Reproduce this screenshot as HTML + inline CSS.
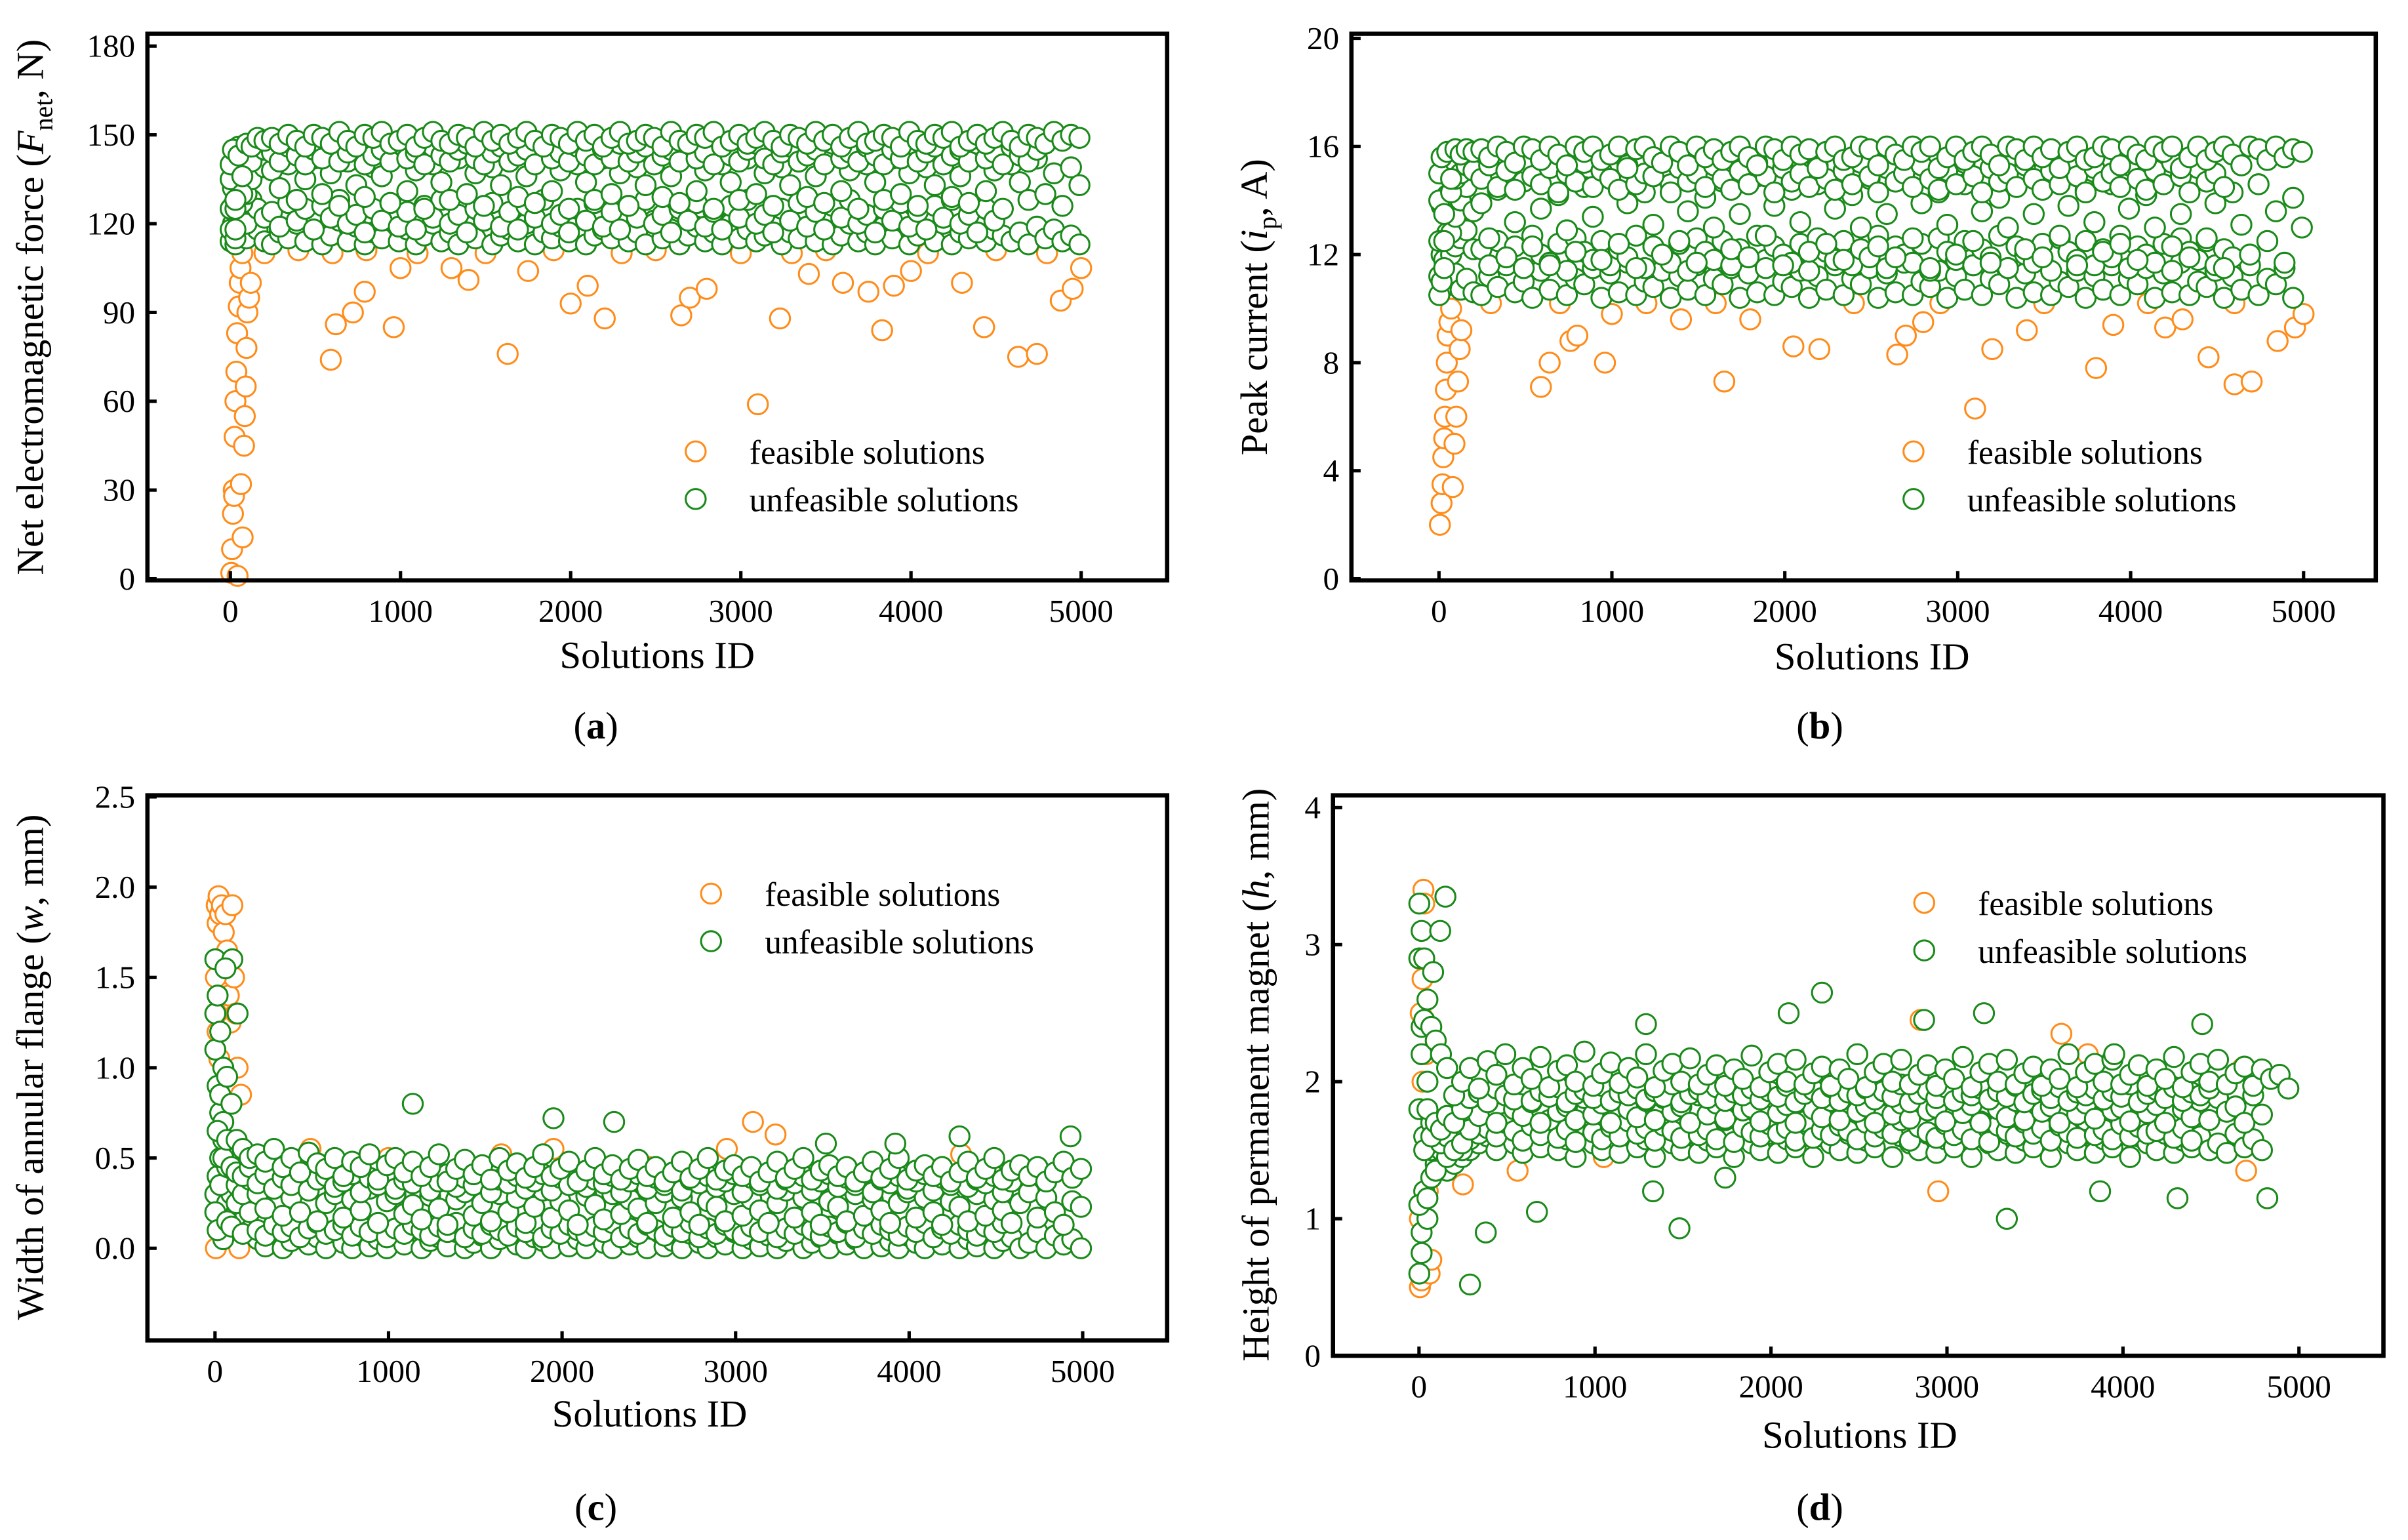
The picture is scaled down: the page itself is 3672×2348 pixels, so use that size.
<!DOCTYPE html>
<html><head><meta charset="utf-8"><style>
html,body{margin:0;padding:0;background:#fff}
svg{display:block}
svg text{font-family:"Liberation Serif","Times New Roman",serif;fill:#000}
</style></head><body>
<svg id="fig" xmlns="http://www.w3.org/2000/svg" width="3672" height="2348" viewBox="0 0 1568 1003" preserveAspectRatio="none" font-family="Liberation Serif, serif">
<rect width="1568" height="1003" fill="#fff"/>
<g id="layer"></g>
<text x="28" y="200" font-size="25" text-anchor="middle" transform="rotate(-90 28 200)">Net electromagnetic force (<tspan font-style="italic">F</tspan><tspan font-size="17" dy="6">net</tspan><tspan dy="-6">, N)</tspan></text>
<text x="825" y="200" font-size="25" text-anchor="middle" transform="rotate(-90 825 200)">Peak current (<tspan font-style="italic">i</tspan><tspan font-size="17" dy="6">p</tspan><tspan dy="-6">, A)</tspan></text>
<text x="28" y="695" font-size="25" text-anchor="middle" transform="rotate(-90 28 695)">Width of annular flange (<tspan font-style="italic">w</tspan>, mm)</text>
<text x="826" y="700" font-size="25" text-anchor="middle" transform="rotate(-90 826 700)">Height of permanent magnet (<tspan font-style="italic">h</tspan>, mm)</text>
<text x="428" y="435" font-size="25" text-anchor="middle">Solutions ID</text>
<text x="1219" y="436" font-size="25" text-anchor="middle">Solutions ID</text>
<text x="423" y="929" font-size="25" text-anchor="middle">Solutions ID</text>
<text x="1211" y="943" font-size="25" text-anchor="middle">Solutions ID</text>
<text x="388" y="481" font-size="25" text-anchor="middle">(<tspan font-weight="bold">a</tspan>)</text>
<text x="1185" y="481" font-size="25" text-anchor="middle">(<tspan font-weight="bold">b</tspan>)</text>
<text x="388" y="990" font-size="25" text-anchor="middle">(<tspan font-weight="bold">c</tspan>)</text>
<text x="1185" y="990" font-size="25" text-anchor="middle">(<tspan font-weight="bold">d</tspan>)</text>
</svg>
<script>
const ids=[2,15,30,48,70,95,125,160,200,245,290,340,390,440,490,540,590,640,690,740,790,840,890,940,990,1040,1090,1140,1190,1240,1290,1340,1390,1440,1490,1540,1590,1640,1690,1740,1790,1840,1890,1940,1990,2040,2090,2140,2190,2240,2290,2340,2390,2440,2490,2540,2590,2640,2690,2740,2790,2840,2890,2940,2990,3040,3090,3140,3190,3240,3290,3340,3390,3440,3490,3540,3590,3640,3690,3740,3790,3840,3890,3940,3990,4040,4090,4140,4190,4240,4290,4340,4390,4440,4490,4540,4590,4640,4690,4740,4790,4840,4890,4940,4990];
const aHi=[140,145,128,143,136,147,146,149,148,149,147,150,148,146,150,149,147,151,148,146,150,149,151,147,148,150,146,149,151,148,147,150,149,146,151,148,150,147,149,151,148,146,150,149,147,151,148,150,146,149,151,147,148,150,149,146,151,148,147,150,149,151,146,148,150,147,149,151,148,146,150,149,147,151,148,150,146,149,151,147,148,150,149,146,151,148,147,150,149,151,146,148,150,147,149,151,148,146,150,149,147,151,148,150,149];
const aUp=[135,140,125,146,130,142,141,147,145,144,141,146,143,140,145,142,147,141,144,146,140,143,145,141,147,142,144,140,146,143,141,145,147,142,140,144,146,141,143,145,140,147,142,144,141,146,143,140,145,142,147,141,144,146,140,143,145,141,147,142,144,140,146,143,141,145,147,142,140,144,146,141,143,145,140,147,142,144,141,146,143,140,145,142,147,141,144,146,140,143,145,141,147,142,144,140,146,143,141,145];
const aMid=[125,132,118,138,127,130,135,141,139,138,132,140,128,135,142,130,137,126,141,133,129,139,136,127,143,131,138,125,140,134,128,142,130,137,126,139,133,141,129,136,127,143,131,138,125,140,134,128,142,130,137,126,139,133,141,129,136,127,143,131,138,125,140,134,128,142,130,137,126,139,133,141,129,136,127,143,131,138,125,140,134,128,142,130,137,126,139,133,141,129,136,127,143,131,138,125,140,134,128,142,130,137,126,139,133];
const aDn=[118,126,115,122,124,120,128,125,122,124,119,127,121,125,118,126,122,128,120,123,117,125,121,127,119,124,118,126,122,128,120,123,117,125,121,127,119,124,118,126,122,128,120,123,117,125,121,127,119,124,118,126,122,128,120,123,117,125,121,127,119,124,118,126,122,128,120,123,117,125,121,127,119,124,118,126,122,128,120,123,117,125,121,127,119,124,118,126,122,128,120,123,117,125,121];
const aLo=[114,120,113,116,119,115,121,118,114,113,117,115,120,114,118,113,116,121,114,119,113,117,115,122,114,118,113,116,120,114,117,113,119,115,121,113,116,118,114,120,113,117,115,119,114,122,113,116,118,115,120,114,117,113,121,115,118,113,116,119,114,117,113,120,115,118,114,116,121,113,117,115,119,114,118,113,116,120,114,117,113,119,115,121,113,116,118,114,120,113,117,115,119,114,118,116,114,117,113,119,115,118,114,116,113];
const bHi=[15,15.6,13.5,15.8,14.8,15.9,15.7,15.9,15.8,15.9,15.6,16,15.8,15.4,16,15.9,15.5,16,15.7,15.3,16,15.8,16,15.5,15.7,16,15.2,15.9,16,15.6,15.4,16,15.8,15.3,16,15.6,15.9,15.5,15.8,16,15.6,15.3,16,15.9,15.5,16,15.7,15.9,15.2,15.8,16,15.5,15.6,16,15.9,15.3,16,15.7,15.5,16,15.8,16,15.2,15.6,16,15.5,15.8,16,15.7,15.3,16,15.9,15.5,16,15.6,15.9,15.2,15.8,16,15.5,15.6,16,15.9,15.3,16,15.7,15.5,16,15.8,16,15.2,15.6,16,15.5,15.8,16,15.7,15.3,16,15.9,15.5,16,15.6,15.9,15.8];
const bUp=[14,15,12.5,15.2,14.3,14.8,15,15.3,15.1,14.8,15.3,14.5,15.1,14.4,15.4,14.9,14.6,15.2,14.3,15.0,14.7,15.4,14.5,15.1,14.8,14.4,15.3,14.6,15.0,14.9,15.4,14.3,15.2,14.7,15.0,14.5,15.3,14.8,14.4,15.1,14.6,15.4,14.9,14.3,15.2,14.7,15.0,14.5,15.3,14.8,14.4,15.1,14.6,15.4,14.9,14.3,15.2,14.7,15.0,14.5,15.3,14.8,14.4,15.1,14.6,15.4,14.9,14.3,15.2,14.7,15.0,14.5,15.3,14.8,14.4,15.1,14.6,15.4,14.9,14.3,15.2,14.7,15.0,14.5,15.3,14.8,14.4,15.1,14.6,15.4,14.9,14.3,15.2,14.7,15.0,14.5];
const bMid=[12.5,13.8,11.5,14.2,12.8,13.4,14,14.5,13.6,13.9,12.6,14.4,11.9,13.2,14.7,12.3,13.7,11.6,14.2,12.9,12.1,14.5,13.4,11.8,14.8,12.4,13.9,11.5,14.3,13.1,12,14.6,12.5,13.6,11.7,14.1,13,14.7,12.2,13.5,11.9,14.9,12.7,13.8,11.6,14.4,13.2,12.1,14.6,12.4,13.7,11.8,14.2,13,14.8,12.3,13.5,11.9,14.9,12.6,13.9,11.5,14.3,13.1,12,14.6,12.5,13.6,11.7,14.1,13,14.7,12.2,13.5,11.9,14.9,12.7,13.8,11.6,14.4,13.2,12.1,14.6,12.4,13.7,11.8,14.2,13,14.8,12.3,13.5,11.9,14.9,12.6,13.9,11.5,14.3,13.1,12,14.6,12.5,13.6,11.7,14.1,13];
const bDn=[10.5,11,11.8,12.8,12,12.3,12.6,12.9,12.2,12.2,11.6,12.5,11.9,12.3,11.5,12.7,12.0,11.7,12.4,11.4,12.6,12.1,11.8,12.5,11.6,12.2,11.9,12.7,11.5,12.3,12.0,11.7,12.4,11.4,12.6,12.1,11.8,12.5,11.6,12.2,11.9,12.7,11.5,12.3,12.0,11.7,12.4,11.4,12.6,12.1,11.8,12.5,11.6,12.2,11.9,12.7,11.5,12.3,12.0,11.7,12.4,11.4,12.6,12.1,11.8,12.5,11.6,12.2,11.9,12.7,11.5,12.3,12.0,11.7,12.4,11.4,12.6,12.1,11.8,12.5,11.6,12.2,11.9,12.7,11.5,12.3,12.0,11.7,12.4,11.4,12.6,12.1,11.8,12.5,11.6,12.2,11.9];
const bLo=[11.2,12,10.8,11.5,10.9,11.3,10.7,11.1,10.6,10.5,11.2,10.8,11.6,10.6,11.0,10.4,11.4,10.7,11.8,10.5,11.1,10.9,11.5,10.4,11.3,10.6,11.7,10.5,11.0,10.8,11.4,10.4,11.2,10.7,11.6,10.5,11.1,10.9,11.5,10.4,11.3,10.6,11.8,10.5,11.0,10.8,11.4,10.4,11.2,10.7,11.6,10.5,11.1,10.9,11.5,10.4,11.3,10.6,11.7,10.5,11.0,10.8,11.4,10.4,11.2,10.7,11.6,10.5,11.1,10.9,11.5,10.4,11.3,10.6,11.8,10.5,11.0,10.8,11.4,10.4,11.2,10.7,11.6,10.5,11.1,10.9,11.5,10.4,11.3,10.6,11.7,10.5,11.0,10.8,11.4,10.4,11.2,10.7,11.6,10.5,11.1,10.9,11.5,10.4];
const cHi=[1.6,1.4,1.2,1.0,0.95,0.8,0.6,0.55,0.5,0.52,0.48,0.55,0.45,0.5,0.42,0.53,0.47,0.44,0.5,0.4,0.48,0.45,0.52,0.38,0.46,0.5,0.42,0.48,0.4,0.45,0.52,0.37,0.44,0.49,0.41,0.46,0.38,0.5,0.43,0.47,0.39,0.45,0.52,0.4,0.44,0.48,0.37,0.43,0.5,0.41,0.46,0.38,0.44,0.49,0.4,0.45,0.37,0.42,0.48,0.39,0.44,0.5,0.38,0.43,0.46,0.4,0.45,0.37,0.42,0.48,0.39,0.44,0.5,0.38,0.43,0.46,0.4,0.45,0.37,0.42,0.48,0.39,0.44,0.5,0.38,0.43,0.46,0.4,0.45,0.37,0.42,0.48,0.39,0.44,0.5,0.38,0.43,0.46,0.4,0.45,0.37,0.42,0.48,0.39,0.44];
const cUp=[1.1,0.65,0.85,0.5,0.6,0.45,0.42,0.4,0.45,0.36,0.41,0.33,0.39,0.35,0.42,0.32,0.38,0.4,0.34,0.37,0.41,0.31,0.39,0.35,0.42,0.33,0.38,0.36,0.4,0.32,0.37,0.41,0.34,0.39,0.35,0.42,0.31,0.38,0.36,0.4,0.33,0.37,0.41,0.32,0.39,0.35,0.42,0.34,0.38,0.36,0.4,0.31,0.37,0.41,0.33,0.39,0.35,0.42,0.32,0.38,0.36,0.4,0.34,0.37,0.41,0.31,0.39,0.35,0.42,0.33,0.38,0.36,0.4,0.32,0.37,0.41,0.34,0.39,0.35,0.42,0.31,0.38,0.36,0.4,0.33,0.37,0.41,0.32,0.39,0.35,0.42,0.34,0.38,0.36,0.4,0.31,0.37];
const cMid=[1.3,0.9,0.75,0.7,0.45,0.55,0.35,0.3,0.38,0.3,0.22,0.35,0.18,0.28,0.2,0.32,0.15,0.25,0.3,0.17,0.27,0.21,0.33,0.14,0.26,0.3,0.19,0.24,0.16,0.29,0.22,0.13,0.27,0.31,0.18,0.25,0.15,0.3,0.2,0.28,0.14,0.23,0.32,0.17,0.26,0.21,0.13,0.29,0.24,0.16,0.3,0.19,0.27,0.22,0.14,0.25,0.31,0.17,0.28,0.2,0.13,0.26,0.23,0.15,0.3,0.18,0.27,0.21,0.14,0.25,0.32,0.17,0.28,0.2,0.13,0.26,0.23,0.15,0.3,0.18,0.27,0.21,0.14,0.25,0.31,0.17,0.28,0.2,0.13,0.26,0.23,0.15,0.3,0.18,0.27,0.21,0.14,0.25,0.31,0.17,0.28,0.2,0.13,0.26,0.23];
const cDn=[0.2,0.1,0.35,0.6,0.15,0.12,0.25,0.08,0.2,0.1,0.07,0.13,0.09,0.12,0.06,0.11,0.14,0.08,0.1,0.13,0.07,0.12,0.09,0.14,0.06,0.11,0.08,0.13,0.1,0.07,0.12,0.09,0.14,0.06,0.11,0.08,0.13,0.1,0.07,0.12,0.09,0.14,0.06,0.11,0.08,0.13,0.1,0.07,0.12,0.09,0.14,0.06,0.11,0.08,0.13,0.1,0.07,0.12,0.09,0.14,0.06,0.11,0.08,0.13,0.1,0.07,0.12,0.09,0.14,0.06,0.11,0.08,0.13,0.1,0.07,0.12,0.09,0.14,0.06,0.11,0.08,0.13,0.1,0.07,0.12,0.09,0.14,0.06,0.11,0.08,0.13,0.1,0.07,0.12,0.09,0.14];
const cLo=[0.3,0.4,0.5,0.05,0.25,0.3,0.2,0.15,0.1,0.05,0.01,0.08,0.0,0.04,0.1,0.02,0.06,0.0,0.09,0.03,0.0,0.07,0.01,0.05,0.0,0.08,0.02,0.11,0.0,0.04,0.06,0.01,0.09,0.0,0.03,0.07,0.0,0.05,0.1,0.02,0.0,0.06,0.04,0.0,0.08,0.01,0.05,0.0,0.09,0.03,0.0,0.07,0.02,0.06,0.0,0.1,0.01,0.04,0.0,0.08,0.03,0.0,0.06,0.02,0.09,0.0,0.05,0.01,0.07,0.0,0.04,0.1,0.0,0.03,0.06,0.0,0.08,0.02,0.05,0.0,0.09,0.01,0.04,0.0,0.07,0.03,0.0,0.06,0.02,0.1,0.0,0.05,0.01,0.08,0.0,0.04,0.06,0.0,0.03,0.09,0.0,0.07,0.02,0.05,0.0];
const dHi=[3.3,3.1,2.9,2.6,2.4,2.3,2.2,2.1,1.9,2.0,2.1,1.95,2.15,2.05,2.2,1.98,2.1,2.02,2.18,1.96,2.08,2.12,2.0,2.22,1.97,2.06,2.14,1.99,2.1,2.03,2.2,1.96,2.08,2.13,2.0,2.17,1.98,2.05,2.12,1.97,2.09,2.02,2.19,1.96,2.07,2.13,2.0,2.16,1.98,2.06,2.11,1.97,2.09,2.02,2.2,1.96,2.07,2.13,2.0,2.16,1.98,2.05,2.12,1.97,2.09,2.02,2.18,1.96,2.07,2.13,2.0,2.16,1.98,2.06,2.11,1.97,2.09,2.02,2.2,1.96,2.07,2.13,2.0,2.16,1.98,2.05,2.12,1.97,2.09,2.02,2.18,1.96,2.07,2.13,2.0,2.16,1.98,2.06,2.11,1.97,2.09,2.02,2.05,1.95];
const dUp=[2.9,2.2,2.45,1.8,1.6,1.7,1.65,1.75,1.7,1.8,1.88,1.92,1.85,1.95,1.9,1.87,1.98,1.86,1.93,1.89,1.96,1.85,1.91,1.94,1.88,1.97,1.86,1.92,1.9,1.95,1.87,1.93,1.89,1.98,1.85,1.91,1.94,1.88,1.96,1.86,1.92,1.9,1.95,1.87,1.93,1.89,1.97,1.85,1.91,1.94,1.88,1.96,1.86,1.92,1.9,1.95,1.87,1.93,1.89,1.98,1.85,1.91,1.94,1.88,1.96,1.86,1.92,1.9,1.95,1.87,1.93,1.89,1.97,1.85,1.91,1.94,1.88,1.96,1.86,1.92,1.9,1.95,1.87,1.93,1.89,1.98,1.85,1.91,1.94,1.88,1.96,1.86,1.92,1.9,1.95];
const dMid=[1.8,2.4,1.5,2.0,1.7,1.6,1.55,1.6,1.5,1.55,1.65,1.75,1.85,1.7,1.9,1.8,1.75,1.85,1.7,1.9,1.78,1.82,1.72,1.88,1.76,1.84,1.7,1.9,1.8,1.74,1.86,1.72,1.88,1.78,1.82,1.7,1.9,1.76,1.84,1.73,1.87,1.79,1.81,1.71,1.89,1.77,1.83,1.7,1.9,1.8,1.74,1.86,1.72,1.88,1.78,1.82,1.7,1.9,1.76,1.84,1.73,1.87,1.79,1.81,1.71,1.89,1.77,1.83,1.7,1.9,1.8,1.74,1.86,1.72,1.88,1.78,1.82,1.7,1.9,1.76,1.84,1.73,1.87,1.79,1.81,1.71,1.89,1.77,1.83,1.7,1.9,1.8,1.74,1.86,1.72,1.88,1.78,1.82,1.7,1.9,1.76];
const dDn=[1.1,0.75,1.6,1.15,1.5,1.35,1.5,1.45,1.55,1.5,1.58,1.62,1.66,1.6,1.7,1.64,1.57,1.68,1.61,1.72,1.59,1.65,1.56,1.69,1.63,1.58,1.67,1.6,1.71,1.62,1.66,1.57,1.68,1.64,1.59,1.7,1.61,1.65,1.58,1.72,1.56,1.67,1.63,1.6,1.69,1.62,1.66,1.57,1.71,1.59,1.65,1.61,1.68,1.64,1.58,1.7,1.6,1.66,1.62,1.72,1.57,1.67,1.63,1.59,1.69,1.61,1.65,1.58,1.71,1.56,1.68,1.64,1.6,1.7,1.62,1.66,1.57,1.68,1.63,1.59,1.72,1.61,1.65,1.58,1.69,1.6,1.67,1.62,1.64,1.7,1.59,1.66,1.57];
const dLo=[0.6,0.9,1.2,1.0,1.3,1.4,1.45,1.35,1.4,1.45,1.5,1.55,1.6,1.5,1.62,1.55,1.48,1.6,1.52,1.65,1.5,1.58,1.45,1.62,1.55,1.5,1.6,1.48,1.65,1.52,1.58,1.45,1.6,1.55,1.5,1.62,1.48,1.57,1.52,1.65,1.45,1.6,1.55,1.5,1.62,1.48,1.58,1.52,1.65,1.45,1.6,1.55,1.5,1.62,1.48,1.57,1.52,1.65,1.45,1.6,1.55,1.5,1.62,1.48,1.58,1.52,1.65,1.45,1.6,1.55,1.5,1.62,1.48,1.57,1.52,1.65,1.45,1.6,1.55,1.5,1.62,1.48,1.58,1.52,1.65,1.45,1.6,1.55,1.5,1.62,1.48,1.57,1.52,1.6,1.5,1.55,1.48,1.62,1.52,1.58,1.5];
const feasAIds=[5,10,15,20,25,30,35,40,50,55,60,70,80,85,90,95,100,110,120,22,62,72,42,200,400,600,800,1100,1500,1900,2300,2500,3000,3300,3500,4100,4500,4800,590,620,720,790,960,1000,1300,1400,1630,1750,2000,2100,2200,2650,2700,2800,3100,3230,3400,3600,3750,3830,3900,4000,4300,4430,4630,4740,4880,4950,5000];
const feasAVals=[2,10,22,30,48,60,70,83,92,100,105,110,45,55,65,78,90,95,100,28,32,14,1,110,111,110,111,110,110,111,110,111,110,110,111,110,111,110,74,86,90,97,85,105,105,101,76,104,93,99,88,89,95,98,59,88,103,100,97,84,99,104,100,85,75,76,94,98,105];
const feasBIds=[5,15,20,25,30,35,40,45,50,60,70,80,90,100,110,120,130,300,700,1200,1600,2400,2900,3500,4100,4600,590,640,760,800,960,1000,1400,1650,1800,2050,2200,2650,2700,2800,3100,3200,3400,3800,3900,4200,4300,4450,4600,4700,4850,4950,5000];
const feasBVals=[2,2.8,3.5,4.5,5.2,6,7,8,9,9.5,10,3.4,5,6,7.3,8.5,9.2,10.2,10.2,10.2,10.2,10.2,10.2,10.2,10.2,10.2,7.1,8,8.8,9,8,9.8,9.6,7.3,9.6,8.6,8.5,8.3,9,9.5,6.3,8.5,9.2,7.8,9.4,9.3,9.6,8.2,7.2,7.3,8.8,9.3,9.8];
const feasCIds=[5,10,15,20,30,40,50,60,70,80,90,100,110,120,130,5,10,15,25,140,150,550,1650,1950,2950,3100,3230,4300,1000,2500];
const feasCVals=[0,1.9,1.8,1.95,1.85,1.9,1.75,1.85,1.65,1.4,1.25,1.9,1.5,1.3,1.0,1.5,1.3,1.2,1.05,0.0,0.85,0.55,0.52,0.55,0.55,0.7,0.63,0.52,0.5,0.45];
const feasDIds=[5,10,15,20,25,30,40,50,60,70,5,10,20,2850,3650,3800,4700,4680,2950,1050,560,250];
const feasDVals=[0.5,0.6,0.55,2.75,3.4,3.3,2.2,1.2,0.6,0.7,1.0,2.5,2.0,2.45,2.35,2.2,1.35,2.1,1.2,1.45,1.35,1.25];
const outCIds=[1140,1950,2300,4290,4930,3520,3920,100,130,60];
const outCVals=[0.8,0.72,0.7,0.62,0.62,0.58,0.58,1.6,1.3,1.55];
const outDIds=[290,380,670,1330,1480,1740,2100,2290,3210,3340,3870,4310,4820,1290,2870,3950,4450,150,120,80];
const outDVals=[0.52,0.9,1.05,1.2,0.93,1.3,2.5,2.65,2.5,1.0,1.2,1.15,1.15,2.42,2.45,2.2,2.42,3.35,3.1,2.8];
const xTicks=[0,1000,2000,3000,4000,5000];
const yTicksA=[0,30,60,90,120,150,180];
const yTicksB=[0,4,8,12,16,20];
const yTicksC=[0.0,0.5,1.0,1.5,2.0,2.5];
const yTicksD=[0,1,2,3,4];

const NS='http://www.w3.org/2000/svg';
const layer=document.getElementById('layer');
const OR='#ff8c1a',GR='#1a8a1a';
const FF='Liberation Serif, serif';
function mk(tag,attrs,parent){const e=document.createElementNS(NS,tag);for(const k in attrs)e.setAttribute(k,attrs[k]);(parent||layer).appendChild(e);return e;}

function panel(p){
  const g=mk('g',{});
  
  
  const X=v=>p.x0+(v/5000)*(p.x5-p.x0);
  const Y=v=>p.yb-(v-p.vmin)/(p.vmax-p.vmin)*(p.yb-p.yt);
  function pts(xs,vs,col,name){
    const n=Math.min(xs.length,vs.length);
    for(let i=0;i<n;i++){
      const c=mk('circle',{cx:X(xs[i]).toFixed(1),cy:Y(vs[i]).toFixed(1),r:6.5,fill:'#fff',stroke:col,'stroke-width':1.3},g);
      
      
    }
  }
  pts(p.fIds,p.fVals,OR,'feasible-point');
  p.green.forEach(s=>pts(ids,s,GR,'unfeasible-point'));
  if(p.oIds)pts(p.oIds,p.oVals,GR,'unfeasible-point');
  const fr=mk('rect',{x:p.L,y:p.T,width:p.R-p.L,height:p.B-p.T,fill:'none',stroke:'#000','stroke-width':2.8},g);
  
  
  xTicks.forEach(t=>{
    mk('line',{x1:X(t),x2:X(t),y1:p.B,y2:p.B-6,stroke:'#000','stroke-width':2.2},g);
    const tx=mk('text',{x:X(t),y:p.B+27,'font-size':21,'text-anchor':'middle','font-family':FF},g);
    tx.textContent=t;
    
    
  });
  p.yTicks.forEach(t=>{
    mk('line',{x1:p.L,x2:p.L+6,y1:Y(t),y2:Y(t),stroke:'#000','stroke-width':2.2},g);
    const tx=mk('text',{x:p.L-8,y:Y(t)+7,'font-size':21,'text-anchor':'end','font-family':FF},g);
    tx.textContent=p.fmt?t.toFixed(1):t;
    
    
  });
  const lg=mk('g',{},g);
  
  
  [[OR,'feasible solutions',0],[GR,'unfeasible solutions',31]].forEach(([col,lab,dy])=>{
    mk('circle',{cx:p.lx,cy:p.ly+dy,r:6.5,fill:'#fff',stroke:col,'stroke-width':1.3},lg);
    const t=mk('text',{x:p.lx+35,y:p.ly+dy+8,'font-size':22,'font-family':FF},lg);
    t.textContent=lab;
    
    
  });
}
panel({key:'a',L:96,R:760,T:22,B:378,x0:150,x5:704,yb:377,yt:30,vmin:0,vmax:180,yTicks:yTicksA,green:[aLo,aDn,aMid,aUp,aHi],fIds:feasAIds,fVals:feasAVals,lx:453,ly:294});
panel({key:'b',L:880,R:1547,T:22,B:378,x0:937,x5:1500,yb:377,yt:25,vmin:0,vmax:20,yTicks:yTicksB,green:[bLo,bDn,bMid,bUp,bHi],fIds:feasBIds,fVals:feasBVals,lx:1246,ly:294});
panel({key:'c',L:96,R:760,T:518,B:873,x0:140,x5:705,yb:813,yt:519,vmin:0,vmax:2.5,yTicks:yTicksC,fmt:true,green:[cLo,cDn,cMid,cUp,cHi],fIds:feasCIds,fVals:feasCVals,oIds:outCIds,oVals:outCVals,lx:463,ly:582});
panel({key:'d',L:868,R:1552,T:518,B:883,x0:924,x5:1497,yb:883,yt:526,vmin:0,vmax:4,yTicks:yTicksD,green:[dLo,dDn,dMid,dUp,dHi],fIds:feasDIds,fVals:feasDVals,oIds:outDIds,oVals:outDVals,lx:1253,ly:588});
</script>
</body></html>
